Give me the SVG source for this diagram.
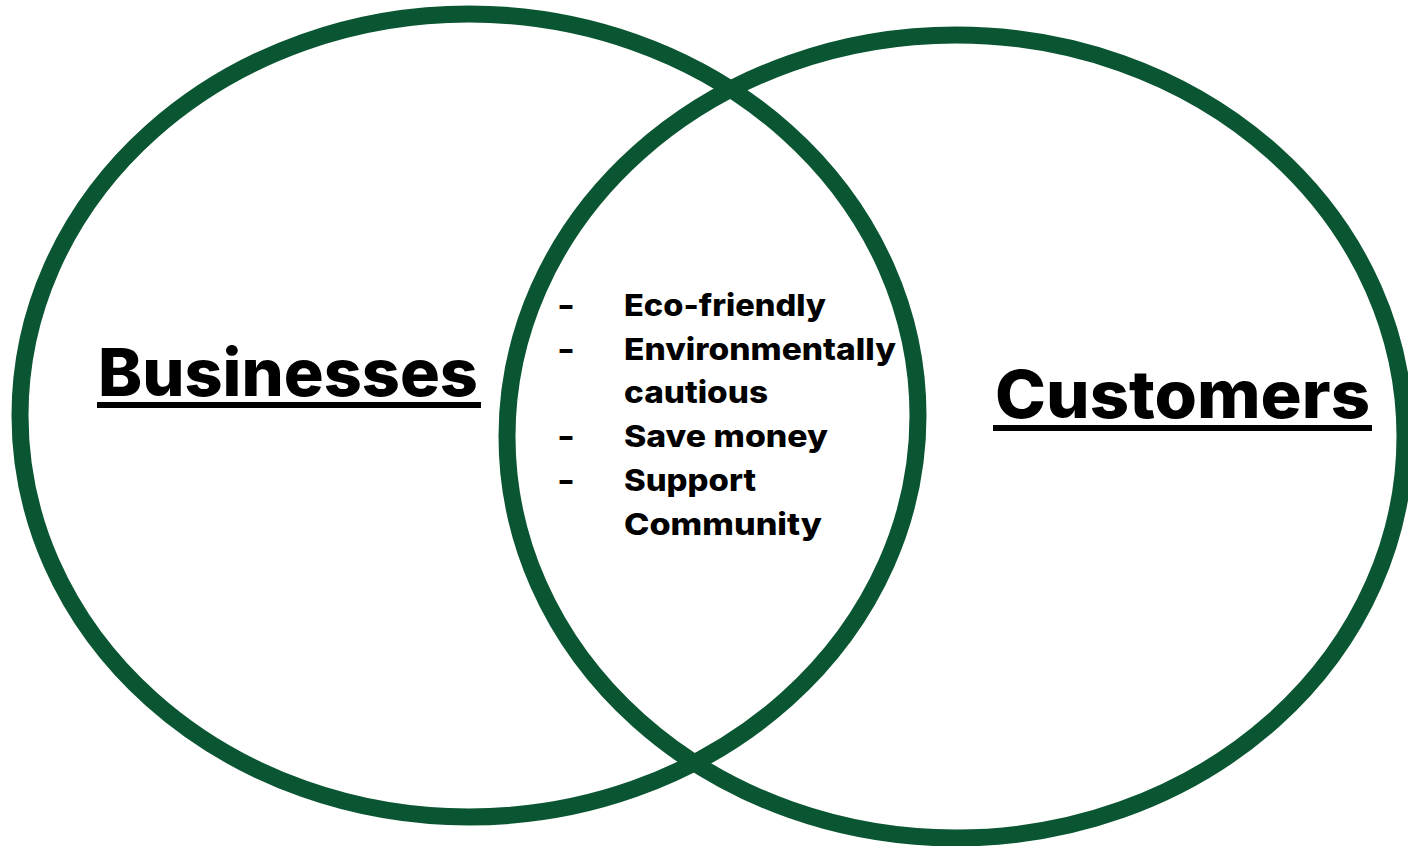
<svg xmlns="http://www.w3.org/2000/svg" width="1408" height="846" viewBox="0 0 1408 846">
  <style>
    .ring { fill: none; stroke: #0b5632; stroke-width: 17; }
    .title { font-family: Inter, "Noto Sans", "Liberation Sans", sans-serif; font-weight: 800; font-size: 66px; fill: #000; }
    .item { font-family: Inter, "Noto Sans", "Liberation Sans", sans-serif; font-weight: 800; font-size: 30px; fill: #000; }
    .rule { fill: #000; }
  </style>
  <rect width="1408" height="846" fill="#ffffff"/>

  <g id="businesses">
    <ellipse class="ring" cx="469" cy="415.5" rx="449" ry="401.5"/>
    <text class="title" x="98" y="396" textLength="380" lengthAdjust="spacingAndGlyphs">Businesses</text>
    <rect class="rule" x="97" y="402" width="384" height="6"/>
  </g>

  <g id="customers">
    <ellipse class="ring" cx="956" cy="436.5" rx="449" ry="401.5"/>
    <text class="title" x="995" y="418" textLength="375" lengthAdjust="spacingAndGlyphs">Customers</text>
    <rect class="rule" x="993" y="425" width="379" height="6"/>
  </g>

  <g id="shared">
    <g class="item">
      <text x="557" y="316" textLength="18" lengthAdjust="spacingAndGlyphs">-</text>
      <text x="624" y="316" textLength="202" lengthAdjust="spacingAndGlyphs">Eco-friendly</text>
      <text x="557" y="360" textLength="18" lengthAdjust="spacingAndGlyphs">-</text>
      <text x="624" y="360" textLength="272" lengthAdjust="spacingAndGlyphs">Environmentally</text>
      <text x="624" y="403" textLength="144" lengthAdjust="spacingAndGlyphs">cautious</text>
      <text x="557" y="447" textLength="18" lengthAdjust="spacingAndGlyphs">-</text>
      <text x="624" y="447" textLength="204" lengthAdjust="spacingAndGlyphs">Save money</text>
      <text x="557" y="491" textLength="18" lengthAdjust="spacingAndGlyphs">-</text>
      <text x="624" y="491" textLength="132" lengthAdjust="spacingAndGlyphs">Support</text>
      <text x="624" y="535" textLength="198" lengthAdjust="spacingAndGlyphs">Community</text>
    </g>
  </g>

  <g id="connectors"/>
</svg>
